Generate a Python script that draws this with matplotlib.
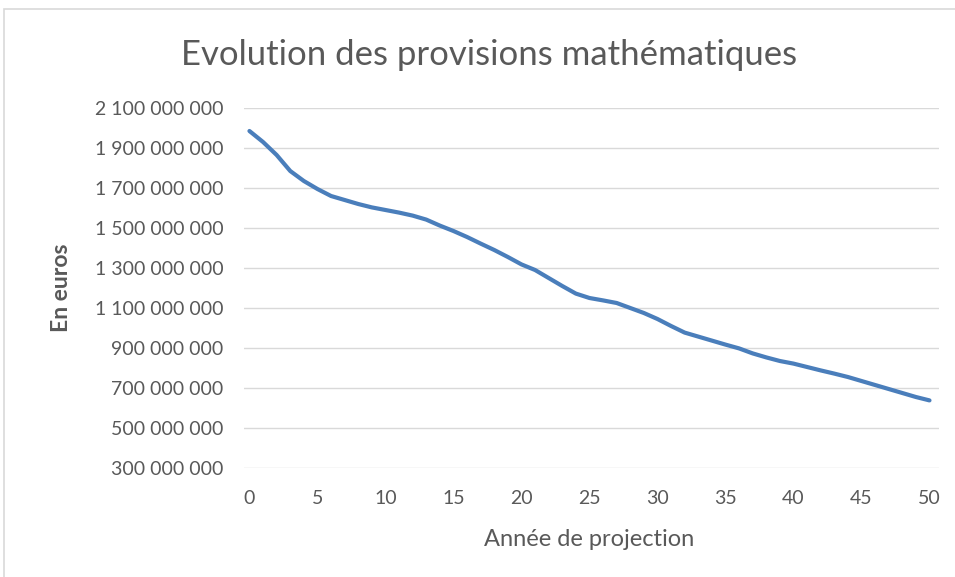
import matplotlib
matplotlib.use("Agg")
import matplotlib.pyplot as plt
from matplotlib.patches import Rectangle
from matplotlib.ticker import FuncFormatter

# Projection years and mathematical provisions (euros)
years = list(range(0, 51))
provisions = [
    1985, 1930, 1865, 1785, 1735, 1695, 1660, 1640, 1620, 1603,
    1590, 1577, 1562, 1542, 1512, 1485, 1455, 1422, 1390, 1355,
    1318, 1290, 1250, 1210, 1172, 1150, 1138, 1125, 1100, 1075,
    1045, 1010, 977, 957, 937, 917, 898, 873, 853, 835,
    822, 805, 788, 772, 755, 735, 715, 695, 675, 655,
    638,
]
provisions = [v * 1e6 for v in provisions]

y_ticks = list(range(300_000_000, 2_100_000_001, 200_000_000))
x_ticks = list(range(0, 51, 5))

plt.rcParams["font.family"] = ["Lato", "DejaVu Sans"]
grey = "#595959"

fig = plt.figure(figsize=(9.55, 5.77), dpi=100)

# chart frame (partially cropped in the original)
fig.patches.append(Rectangle((4 / 955, -0.1), 1.2, 1.1 - 9 / 577,
                             transform=fig.transFigure, fill=False,
                             edgecolor="#d9d9d9", linewidth=1.2))

ax = fig.add_axes([244 / 955, 109 / 577, 695 / 955, 360 / 577])
ax.plot(years, provisions, color="#4A7EBB", linewidth=3.0,
        solid_capstyle="round", solid_joinstyle="round")

ax.set_xlim(-0.4, 50.7)
ax.set_ylim(300_000_000, 2_100_000_000)
ax.set_yticks(y_ticks)
ax.set_xticks(x_ticks)
ax.yaxis.set_major_formatter(
    FuncFormatter(lambda v, p: f"{int(v):,}".replace(",", " ")))

ax.grid(axis="y", color="#d9d9d9", linewidth=1.0)
ax.set_axisbelow(True)
for s in ax.spines.values():
    s.set_visible(False)
ax.tick_params(length=0, labelsize=14, labelcolor=grey)
ax.tick_params(axis="x", pad=16)
ax.tick_params(axis="y", pad=15)

ax.set_xlabel("Année de projection", fontsize=17, color=grey, va="center")
ax.xaxis.set_label_coords((589 - 244) / 695, (468 - 540) / 360)
ax.set_ylabel("En euros", fontsize=16.5, color=grey, fontweight="bold",
              va="center")
ax.yaxis.set_label_coords((62 - 244) / 695, 0.5)

fig.text(489 / 955, 1 - 55 / 577, "Evolution des provisions mathématiques",
         ha="center", va="center", fontsize=25, color=grey)

fig.savefig("out.png", dpi=100)
